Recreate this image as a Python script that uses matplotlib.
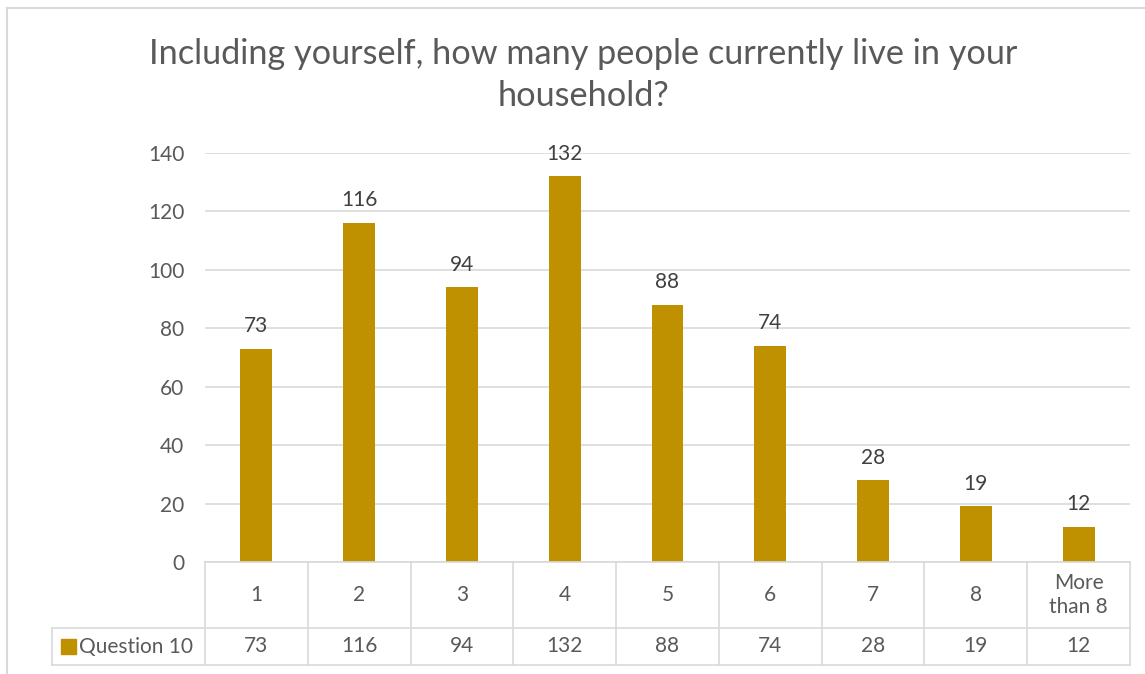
import matplotlib.pyplot as plt
from matplotlib.lines import Line2D
from matplotlib.patches import Rectangle

plt.rcParams['font.family'] = ['Lato', 'DejaVu Sans']

# data
categories = ['1', '2', '3', '4', '5', '6', '7', '8', 'More\nthan 8']
values = [73, 116, 94, 132, 88, 74, 28, 19, 12]
series_name = 'Question 10'
title = 'Including yourself, how many people currently live in your\nhousehold?'

bar_color = '#BF9000'
text_color = '#595959'
grid_color = '#D9D9D9'

W, H = 1145, 674
fig = plt.figure(figsize=(W / 100, H / 100), dpi=100)

# plot area in pixel coordinates
px_left, px_right = 205, 1130
px_top, px_bottom = 153, 562
ax = fig.add_axes([px_left / W, 1 - px_bottom / H,
                   (px_right - px_left) / W, (px_bottom - px_top) / H])

x = list(range(len(categories)))
ax.bar(x, values, width=0.31, color=bar_color, zorder=3)
for xi, v in zip(x, values):
    ax.annotate(str(v), (xi, v), xytext=(0, 12), textcoords='offset points',
                ha='center', va='baseline', fontsize=15, color='#404040')

ax.set_xlim(-0.5, len(categories) - 0.5)
ax.set_ylim(0, 140)
ax.set_yticks(range(0, 141, 20))
ax.yaxis.grid(True, color=grid_color, linewidth=1.2, zorder=0)
ax.tick_params(axis='y', length=0, pad=15, labelsize=15, labelcolor=text_color)
ax.set_xticks([])
for s in ax.spines.values():
    s.set_visible(False)

# data table below the axes
def fy(py):
    return 1 - py / H

def fx(px):
    return px / W

row1_top, row1_bot, row2_bot = 562, 628, 665
tbl_left = 52
lw = 1.2
fig.add_artist(Line2D([fx(px_left), fx(px_right)], [fy(row1_top)] * 2, color=grid_color, lw=lw))
fig.add_artist(Line2D([fx(tbl_left), fx(px_right)], [fy(row1_bot)] * 2, color=grid_color, lw=lw))
fig.add_artist(Line2D([fx(tbl_left), fx(px_right)], [fy(row2_bot)] * 2, color=grid_color, lw=lw))
fig.add_artist(Line2D([fx(tbl_left)] * 2, [fy(row1_bot), fy(row2_bot)], color=grid_color, lw=lw))

col_w = (px_right - px_left) / len(categories)
for i in range(len(categories) + 1):
    cx = px_left + i * col_w
    fig.add_artist(Line2D([fx(cx)] * 2, [fy(row1_top), fy(row2_bot)], color=grid_color, lw=lw))

for i, (c, v) in enumerate(zip(categories, values)):
    cx = px_left + (i + 0.5) * col_w
    fig.text(fx(cx), fy((row1_top + row1_bot) / 2), c, ha='center', va='center',
             fontsize=15, color=text_color, linespacing=1.3)
    fig.text(fx(cx), fy((row1_bot + row2_bot) / 2), str(v), ha='center', va='center',
             fontsize=15, color=text_color)

# legend key + series name
fig.add_artist(Rectangle((fx(61), fy(654)), 15 / W, 15 / H, color=bar_color))
fig.text(fx(79), fy((row1_bot + row2_bot) / 2), series_name, ha='left', va='center',
         fontsize=15, color=text_color)

# chart frame
fig.add_artist(Line2D([fx(7), fx(W)], [fy(8)] * 2, color=grid_color, lw=1.5))
fig.add_artist(Line2D([fx(7)] * 2, [fy(8), 0], color=grid_color, lw=1.5))

fig.text(fx(583), fy(75), title, ha='center', va='center', fontsize=24.7,
         color=text_color, linespacing=1.35)

fig.savefig('out.png', dpi=100, facecolor='white')
